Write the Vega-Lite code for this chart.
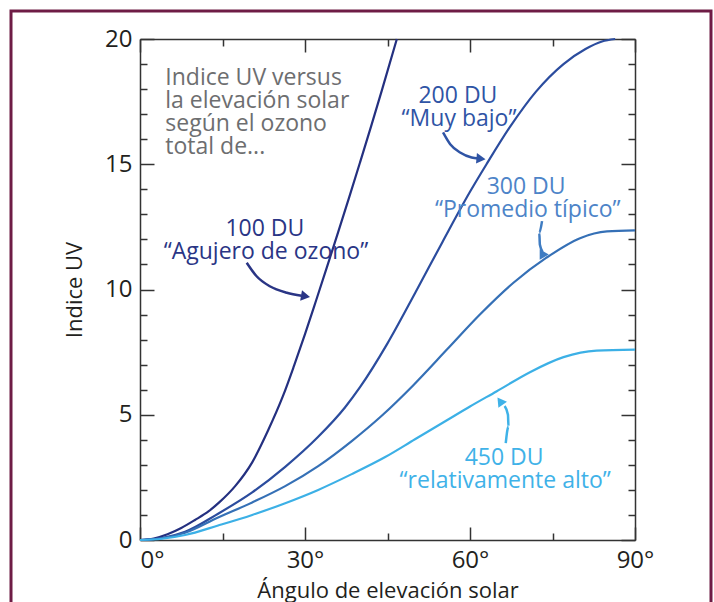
{
  "$schema": "https://vega.github.io/schema/vega-lite/v6.json",
  "width": 700,
  "height": 600,
  "autosize": {"type": "none"},
  "padding": {"left": 11, "top": 11, "right": 3, "bottom": -9},
  "background": "white",
  "config": {
    "view": {"stroke": "#6e1c45", "strokeWidth": 3},
    "font": "Open Sans",
    "axis": {
      "grid": false,
      "domainColor": "#333333",
      "domainWidth": 1.5,
      "tickColor": "#333333",
      "tickWidth": 1.5,
      "labelFont": "Open Sans",
      "labelFontSize": 24,
      "labelColor": "#231f20",
      "titleFont": "Open Sans",
      "titleFontSize": 22,
      "titleFontWeight": "normal",
      "titleColor": "#231f20"
    }
  },
  "datasets": {
    "curves": [
      {"series": "100 DU", "angle": 0, "uv": 0},
      {"series": "100 DU", "angle": 2.5, "uv": 0.06},
      {"series": "100 DU", "angle": 5, "uv": 0.23},
      {"series": "100 DU", "angle": 7.5, "uv": 0.48},
      {"series": "100 DU", "angle": 10, "uv": 0.8},
      {"series": "100 DU", "angle": 12.5, "uv": 1.15},
      {"series": "100 DU", "angle": 14.5, "uv": 1.52},
      {"series": "100 DU", "angle": 17.3, "uv": 2.15},
      {"series": "100 DU", "angle": 20.4, "uv": 3.1},
      {"series": "100 DU", "angle": 23.3, "uv": 4.38},
      {"series": "100 DU", "angle": 26, "uv": 5.75},
      {"series": "100 DU", "angle": 28, "uv": 6.95},
      {"series": "100 DU", "angle": 30, "uv": 8.22},
      {"series": "100 DU", "angle": 32, "uv": 9.55},
      {"series": "100 DU", "angle": 34, "uv": 10.9},
      {"series": "100 DU", "angle": 36, "uv": 12.27},
      {"series": "100 DU", "angle": 38, "uv": 13.66},
      {"series": "100 DU", "angle": 40, "uv": 15.07},
      {"series": "100 DU", "angle": 42, "uv": 16.5},
      {"series": "100 DU", "angle": 44, "uv": 17.97},
      {"series": "100 DU", "angle": 46.7, "uv": 20},
      {"series": "200 DU", "angle": 0, "uv": 0},
      {"series": "200 DU", "angle": 4, "uv": 0.08},
      {"series": "200 DU", "angle": 8.2, "uv": 0.33},
      {"series": "200 DU", "angle": 14.2, "uv": 1.05},
      {"series": "200 DU", "angle": 20.4, "uv": 1.9},
      {"series": "200 DU", "angle": 26.4, "uv": 2.92},
      {"series": "200 DU", "angle": 32.4, "uv": 4.12},
      {"series": "200 DU", "angle": 37.3, "uv": 5.3},
      {"series": "200 DU", "angle": 40, "uv": 6.1},
      {"series": "200 DU", "angle": 45, "uv": 7.85},
      {"series": "200 DU", "angle": 50, "uv": 9.85},
      {"series": "200 DU", "angle": 55, "uv": 11.9},
      {"series": "200 DU", "angle": 60, "uv": 13.9},
      {"series": "200 DU", "angle": 63, "uv": 15.0},
      {"series": "200 DU", "angle": 67.3, "uv": 16.5},
      {"series": "200 DU", "angle": 72, "uv": 17.9},
      {"series": "200 DU", "angle": 77, "uv": 19.0},
      {"series": "200 DU", "angle": 81, "uv": 19.6},
      {"series": "200 DU", "angle": 84, "uv": 19.9},
      {"series": "200 DU", "angle": 86.4, "uv": 20},
      {"series": "300 DU", "angle": 0, "uv": 0},
      {"series": "300 DU", "angle": 4, "uv": 0.07},
      {"series": "300 DU", "angle": 8.2, "uv": 0.29},
      {"series": "300 DU", "angle": 14.2, "uv": 0.9},
      {"series": "300 DU", "angle": 20.4, "uv": 1.5},
      {"series": "300 DU", "angle": 26.4, "uv": 2.15},
      {"series": "300 DU", "angle": 32.4, "uv": 2.95},
      {"series": "300 DU", "angle": 38.5, "uv": 3.95},
      {"series": "300 DU", "angle": 44, "uv": 4.97},
      {"series": "300 DU", "angle": 49.7, "uv": 6.18},
      {"series": "300 DU", "angle": 55.8, "uv": 7.6},
      {"series": "300 DU", "angle": 61.8, "uv": 9.0},
      {"series": "300 DU", "angle": 67.9, "uv": 10.27},
      {"series": "300 DU", "angle": 73.9, "uv": 11.27},
      {"series": "300 DU", "angle": 80, "uv": 12.05},
      {"series": "300 DU", "angle": 84.9, "uv": 12.32},
      {"series": "300 DU", "angle": 90, "uv": 12.36},
      {"series": "450 DU", "angle": 0, "uv": 0},
      {"series": "450 DU", "angle": 4, "uv": 0.05},
      {"series": "450 DU", "angle": 8.2, "uv": 0.2},
      {"series": "450 DU", "angle": 14.2, "uv": 0.58},
      {"series": "450 DU", "angle": 20.4, "uv": 1.0},
      {"series": "450 DU", "angle": 26.4, "uv": 1.47},
      {"series": "450 DU", "angle": 32.4, "uv": 2.0},
      {"series": "450 DU", "angle": 38.5, "uv": 2.63},
      {"series": "450 DU", "angle": 44.5, "uv": 3.3},
      {"series": "450 DU", "angle": 50, "uv": 4.02},
      {"series": "450 DU", "angle": 55.8, "uv": 4.78},
      {"series": "450 DU", "angle": 60, "uv": 5.33},
      {"series": "450 DU", "angle": 64.8, "uv": 5.93},
      {"series": "450 DU", "angle": 70.9, "uv": 6.7},
      {"series": "450 DU", "angle": 77, "uv": 7.3},
      {"series": "450 DU", "angle": 83, "uv": 7.56},
      {"series": "450 DU", "angle": 90, "uv": 7.6}
    ],
    "arrows": [
      {"series": "100 DU", "i": 1, "angle": 19.4, "uv": 11.07},
      {"series": "100 DU", "i": 2, "angle": 21.2, "uv": 10.53},
      {"series": "100 DU", "i": 3, "angle": 23.6, "uv": 10.13},
      {"series": "100 DU", "i": 4, "angle": 26.7, "uv": 9.87},
      {"series": "100 DU", "i": 5, "angle": 29.4, "uv": 9.75},
      {"series": "200 DU", "i": 1, "angle": 55.1, "uv": 16.27},
      {"series": "200 DU", "i": 2, "angle": 56.4, "uv": 15.8},
      {"series": "200 DU", "i": 3, "angle": 58.2, "uv": 15.47},
      {"series": "200 DU", "i": 4, "angle": 60.3, "uv": 15.27},
      {"series": "200 DU", "i": 5, "angle": 61.5, "uv": 15.23},
      {"series": "300 DU", "i": 1, "angle": 73.1, "uv": 12.73},
      {"series": "300 DU", "i": 2, "angle": 72.6, "uv": 12.27},
      {"series": "300 DU", "i": 3, "angle": 72.7, "uv": 11.8},
      {"series": "300 DU", "i": 4, "angle": 73.2, "uv": 11.5},
      {"series": "450 DU", "i": 1, "angle": 66.5, "uv": 3.87},
      {"series": "450 DU", "i": 2, "angle": 67.0, "uv": 4.53},
      {"series": "450 DU", "i": 3, "angle": 66.9, "uv": 5.0},
      {"series": "450 DU", "i": 4, "angle": 66.3, "uv": 5.35}
    ],
    "heads": [
      {"series": "100 DU", "angle": 30.1, "uv": 9.73},
      {"series": "200 DU", "angle": 62.0, "uv": 15.22},
      {"series": "300 DU", "angle": 73.5, "uv": 11.4},
      {"series": "450 DU", "angle": 65.9, "uv": 5.5}
    ],
    "labels": [
      {"series": "100 DU", "angle": 22.7, "uv": 12.13, "text": "100 DU"},
      {"series": "100 DU", "angle": 22.9, "uv": 11.21, "text": "“Agujero de ozono”"},
      {"series": "200 DU", "angle": 57.8, "uv": 17.44, "text": "200 DU"},
      {"series": "200 DU", "angle": 58.0, "uv": 16.52, "text": "“Muy bajo”"},
      {"series": "300 DU", "angle": 70.2, "uv": 13.81, "text": "300 DU"},
      {"series": "300 DU", "angle": 70.5, "uv": 12.89, "text": "“Promedio típico”"},
      {"series": "450 DU", "angle": 66.2, "uv": 2.98, "text": "450 DU"},
      {"series": "450 DU", "angle": 66.4, "uv": 2.06, "text": "“relativamente alto”"}
    ],
    "note": [
      {"angle": 4.6, "uv": 18.17, "text": "Indice UV versus"},
      {"angle": 4.6, "uv": 17.25, "text": "la elevación solar"},
      {"angle": 4.6, "uv": 16.33, "text": "según el ozono"},
      {"angle": 4.6, "uv": 15.41, "text": "total de..."}
    ]
  },
  "layer": [
    {
      "data": {"name": "curves"},
      "mark": {"type": "line", "strokeWidth": 2.2, "interpolate": "monotone"},
      "encoding": {
        "x": {
          "field": "angle", "type": "quantitative",
          "scale": {"domain": [0, 90], "range": [129, 624], "nice": false},
          "axis": {
            "orient": "bottom", "offset": -71,
            "values": [0, 15, 30, 45, 60, 75, 90],
            "labelExpr": "datum.value % 30 === 0 ? datum.value + '°' : ''",
            "tickSize": {"condition": {"test": "datum.value % 30 === 0", "value": -13}, "value": -7},
            "labelPadding": 21,
            "labelAlign": {"condition": {"test": "datum.value === 0", "value": "left"}, "value": "center"},
            "title": "Ángulo de elevación solar",
            "titlePadding": 8
          }
        },
        "y": {
          "field": "uv", "type": "quantitative",
          "scale": {"domain": [0, 20], "range": [529, 28], "nice": false},
          "axis": {
            "orient": "left", "offset": -129,
            "values": [0,1,2,3,4,5,6,7,8,9,10,11,12,13,14,15,16,17,18,19,20],
            "labelExpr": "datum.value % 5 === 0 ? datum.label : ''",
            "tickSize": {"condition": {"test": "datum.value % 5 === 0", "value": -14}, "value": -7},
            "labelPadding": 22,
            "title": "Indice UV",
            "titlePadding": 18
          }
        },
        "color": {
          "field": "series", "type": "nominal",
          "scale": {"domain": ["100 DU", "200 DU", "300 DU", "450 DU"], "range": ["#243080", "#2b4c9e", "#3570b6", "#3cb0e6"]},
          "legend": null
        }
      }
    },
    {
      "data": {"name": "curves"},
      "mark": {"type": "point", "opacity": 0},
      "encoding": {
        "x": {
          "field": "angle", "type": "quantitative",
          "axis": {
            "orient": "top", "offset": -28,
            "values": [0, 15, 30, 45, 60, 75, 90],
            "labels": false,
            "tickSize": {"condition": {"test": "datum.value % 30 === 0", "value": -13}, "value": -7},
            "title": null
          }
        },
        "y": {
          "field": "uv", "type": "quantitative",
          "axis": {
            "orient": "right", "offset": -76,
            "values": [0,1,2,3,4,5,6,7,8,9,10,11,12,13,14,15,16,17,18,19,20],
            "labels": false,
            "tickSize": {"condition": {"test": "datum.value % 5 === 0", "value": -14}, "value": -7},
            "title": null
          }
        }
      }
    },
    {
      "data": {"name": "arrows"},
      "mark": {"type": "line", "strokeWidth": 2.5, "interpolate": "monotone"},
      "encoding": {
        "x": {"field": "angle", "type": "quantitative", "axis": null},
        "y": {"field": "uv", "type": "quantitative", "axis": null},
        "order": {"field": "i", "type": "quantitative"},
        "color": {
          "field": "series", "type": "nominal",
          "scale": {"domain": ["100 DU", "200 DU", "300 DU", "450 DU"], "range": ["#2a3585", "#2f54a5", "#3f7cc2", "#3fb2e8"]},
          "legend": null
        }
      }
    },
    {
      "data": {"name": "heads"},
      "mark": {"type": "point", "shape": "triangle-up", "filled": true, "opacity": 1, "size": 110},
      "encoding": {
        "x": {"field": "angle", "type": "quantitative", "axis": null},
        "y": {"field": "uv", "type": "quantitative", "axis": null},
        "angle": {
          "field": "series", "type": "nominal",
          "scale": {"domain": ["100 DU", "200 DU", "300 DU", "450 DU"], "range": [100, 85, 165, 330]},
          "legend": null
        },
        "color": {
          "field": "series", "type": "nominal",
          "scale": {"domain": ["100 DU", "200 DU", "300 DU", "450 DU"], "range": ["#2a3585", "#2f54a5", "#3f7cc2", "#3fb2e8"]},
          "legend": null
        }
      }
    },
    {
      "data": {"name": "labels"},
      "mark": {"type": "text", "align": "center", "baseline": "alphabetic", "fontSize": 23, "font": "Open Sans"},
      "encoding": {
        "x": {"field": "angle", "type": "quantitative", "axis": null},
        "y": {"field": "uv", "type": "quantitative", "axis": null},
        "text": {"field": "text"},
        "color": {
          "field": "series", "type": "nominal",
          "scale": {"domain": ["100 DU", "200 DU", "300 DU", "450 DU"], "range": ["#2a3585", "#2f54a5", "#4d84c8", "#3fb2e8"]},
          "legend": null
        }
      }
    },
    {
      "data": {"name": "note"},
      "mark": {"type": "text", "align": "left", "baseline": "alphabetic", "fontSize": 23, "font": "Open Sans", "color": "#6d6e70"},
      "encoding": {
        "x": {"field": "angle", "type": "quantitative", "axis": null},
        "y": {"field": "uv", "type": "quantitative", "axis": null},
        "text": {"field": "text"}
      }
    }
  ],
  "resolve": {"axis": {"x": "independent", "y": "independent"}, "scale": {"color": "independent"}}
}
